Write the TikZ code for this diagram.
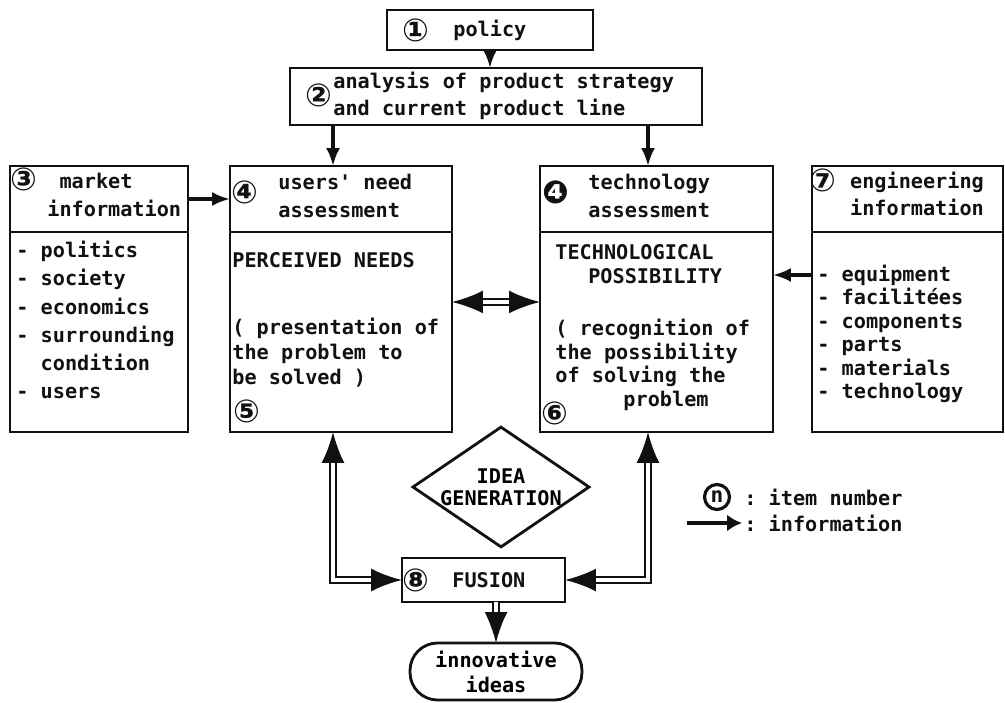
\documentclass[tikz,border=0pt]{standalone}
\usepackage{fontspec}
\setmonofont{DejaVu Sans Mono}
\newfontfamily\numfont{DejaVu Sans}
\usetikzlibrary{positioning, arrows.meta, shapes.geometric}
\definecolor{cInk}{HTML}{111111}
\tikzset{
  frame/.style={rectangle, draw=cInk, line width=1.6pt, inner sep=0pt, outer sep=0pt},
  txt/.style={font={\ttfamily\bfseries\fontsize{11.5pt}{#1}\selectfont}, text=cInk,
    inner sep=0pt, align=left, anchor=west},
  txt/.default=14.8pt,
  num/.style={font={\numfont\bfseries\fontsize{18pt}{18pt}\selectfont}, text=cInk, inner sep=0pt},
  arrow/.style={-{Latex[length=0.36cm, width=0.28cm]}, line width=1.8pt, draw=cInk},
  dbl/.style={>={Latex[length=0.62cm, width=0.46cm]}, double=white,
    double distance=2.2pt, line width=1.3pt, draw=cInk},
}

\begin{document}
\begin{tikzpicture}[x=0.02cm, y=-0.02cm]
  \useasboundingbox (0,0) rectangle (1005,703);

  % policy and strategy
  \node[frame, minimum width=4.12cm, minimum height=0.8cm] (policy) at (490,30) {};
  \node[num] (n1) at (416,30) {①};
  \node[txt] (poltxt) at (453,30) {policy};

  \node[frame, minimum width=8.24cm, minimum height=1.14cm] (analysis) at (496,96.5) {};
  \node[num] (n2) at (319,95) {②};
  \node[txt=15.4pt] (anatxt) at (333,96)
    {analysis of product strategy\\and current product line};

  % the four columns
  \node[frame, minimum width=3.56cm, minimum height=1.32cm] (marketH) at (99,199) {};
  \node[frame, minimum width=3.56cm, minimum height=4cm, below=0pt of marketH] (marketB) {};
  \node[frame, minimum width=4.44cm, minimum height=1.32cm] (usersH) at (341,199) {};
  \node[frame, minimum width=4.44cm, minimum height=4cm, below=0pt of usersH] (usersB) {};
  \node[frame, minimum width=4.66cm, minimum height=1.32cm] (techH) at (656.5,199) {};
  \node[frame, minimum width=4.66cm, minimum height=4cm, below=0pt of techH] (techB) {};
  \node[frame, minimum width=3.82cm, minimum height=1.32cm] (engH) at (907.5,199) {};
  \node[frame, minimum width=3.82cm, minimum height=4cm, below=0pt of engH] (engB) {};

  \node[num] (n3) at (24,179) {③};
  \node[txt=16pt] (mkthead) at (47,195) {~market\\information};
  \node[txt=16pt] (mktlist) at (16,320)
    {- politics\\- society\\- economics\\- surrounding\\~~condition\\- users};

  \node[num] (n4) at (245,192) {④};
  \node[txt=16pt] (usrhead) at (278,196) {users' need\\assessment};
  \node[txt] (usrneed) at (232,260) {PERCEIVED NEEDS};
  \node[txt=14.2pt] (usrnote) at (232,353)
    {( presentation of\\the problem to\\be solved )};
  \node[num] (n5) at (247,411) {⑤};

  \node[num] (n4b) at (556,192) {❹};
  \node[txt=16pt] (techhead) at (588,196) {technology\\assessment};
  \node[txt=13.7pt] (techposs) at (555,264)
    {TECHNOLOGICAL\\\hspace*{1.63em}POSSIBILITY};
  \node[txt=13.4pt] (technote) at (555,365)
    {( recognition of\\the possibility\\of solving the\\\hspace*{3.37em}problem};
  \node[num] (n6) at (555,413) {⑥};

  \node[num] (n7) at (823,180) {⑦};
  \node[txt=15.4pt, align=center, anchor=center] (enghead) at (917,194)
    {engineering\\information};
  \node[txt=13.4pt] (englist) at (817,334)
    {- equipment\\- facilitées\\- components\\- parts\\- materials\\- technology};

  % idea generation and fusion
  \node[frame, diamond, aspect=1.47, minimum width=3.44cm, minimum height=2.34cm,
        font={\ttfamily\bfseries\fontsize{11.5pt}{12.5pt}\selectfont}, align=center]
    (idea) at (501,487) {IDEA\\GENERATION};

  \node[frame, minimum width=3.26cm, minimum height=0.88cm] (fusion) at (483.5,580) {};
  \node[num] (n8) at (416,580) {⑧};
  \node[txt] (fustxt) at (452,580) {FUSION};

  \node[frame, rounded corners=0.55cm, minimum width=3.44cm, minimum height=1.14cm,
        font={\ttfamily\bfseries\fontsize{11.5pt}{14.2pt}\selectfont}, align=center]
    (ideas) at (496,671.5) {innovative\\ideas};

  % legend
  \node[circle, draw=cInk, line width=1.8pt, inner sep=0pt, minimum size=0.5cm,
        font={\ttfamily\bfseries\fontsize{12pt}{12pt}\selectfont}, text=cInk]
    (nn) at (717,497) {n};
  \node[txt] (legnum) at (744,497) {: item number};
  \coordinate (legA) at (687,523);
  \coordinate (legB) at (742,523);
  \node[txt] (leginf) at (744,523) {: information};

  % connectors
  \coordinate (uin) at ([xshift=-0.16cm]usersH.north);
  \coordinate (tin) at ([xshift=-0.17cm]techH.north);
  \coordinate (uout) at ([xshift=-0.16cm]usersB.south);
  \coordinate (tout) at ([xshift=-0.17cm]techB.south);

  \draw[arrow] (policy.south) -- (policy.south |- analysis.north);
  \draw[arrow] (analysis.south -| uin) -- (uin);
  \draw[arrow] (analysis.south -| tin) -- (tin);
  \draw[arrow] (marketH.east) -- (usersH.west);
  \draw[arrow] ([yshift=1.14cm]engB.west) -- ([yshift=1.14cm]techB.east);
  \draw[dbl, <->] ([yshift=0.6cm]usersB.east) -- ([yshift=0.6cm]techB.west);
  \draw[dbl, <->] (uout) |- (fusion.west);
  \draw[dbl, <->] (tout) |- (fusion.east);
  \draw[dbl, ->] (ideas.north |- fusion.south) -- (ideas.north);
  \draw[arrow, line width=2.2pt, -{Latex[length=0.3cm, width=0.34cm]}] (legA) -- (legB);

\end{tikzpicture}
\end{document}
